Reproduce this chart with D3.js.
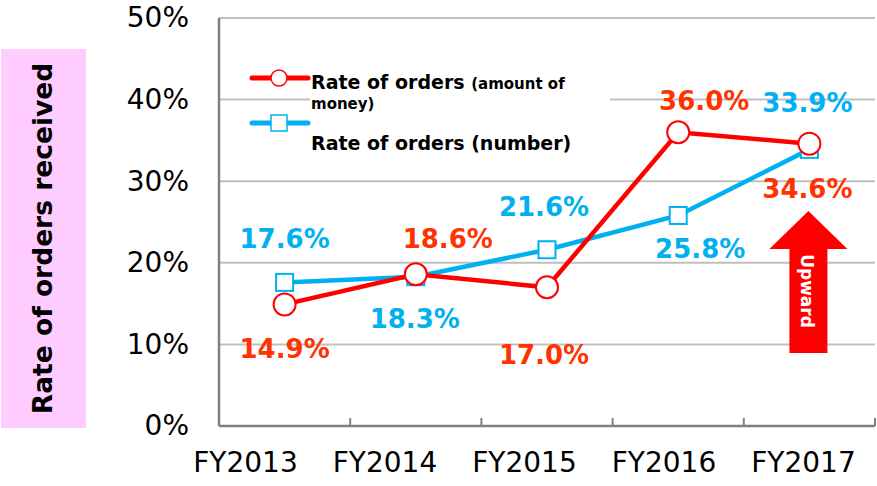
<!DOCTYPE html>
<html>
<head>
<meta charset="utf-8">
<script src="https://cdn.jsdelivr.net/npm/d3@7"></script>
<style>
  body { margin: 0; background: #fff; }
  text { font-family: "DejaVu Sans", Verdana, sans-serif; }
</style>
</head>
<body>
<svg width="877" height="486"></svg>
<script>
const svg = d3.select('svg');

const width = +svg.attr('width');
const height = +svg.attr('height');
const margin = { top: 18, right: 2, bottom: 60, left: 219 };
const innerWidth = width - margin.left - margin.right;
const innerHeight = height - margin.top - margin.bottom;

// data
const years = ['FY2013', 'FY2014', 'FY2015', 'FY2016', 'FY2017'];
const amountRate = [14.9, 18.6, 17.0, 36.0, 34.6];
const numberRate = [17.6, 18.3, 21.6, 25.8, 33.9];
const yTicks = [0, 10, 20, 30, 40, 50];

const yAxisLabel = 'Rate of orders received';
const redLine = '#ff0000';
const redLabel = '#ff3300';
const blueLine = '#00b0f0';
const fontFamily = '"DejaVu Sans", Verdana, sans-serif';

// label offsets from each point (dx, dy to baseline)
const amountLabelOffset = [[0, 54], [32, -26], [-3, 77], [26, -22], [-2, 54]];
const numberLabelOffset = [[0, -34], [-1, 51], [-3, -34], [22, 43], [-2, -37]];

const x = d3.scaleBand()
  .domain(years)
  .range([0, innerWidth]);

// the category labels in the picture sit a bit wider apart than the plot bands
const xLabel = d3.scalePoint()
  .domain(years)
  .range([26, 584]);

const y = d3.scaleLinear()
  .domain([0, 50])
  .range([innerHeight, 0]);

// pink box behind the y label
svg.append('rect')
  .attr('x', 1).attr('y', 49)
  .attr('width', 85).attr('height', 379)
  .attr('fill', '#ffccff');

svg.append('text')
  .attr('transform', `translate(52,${49 + 379 / 2}) rotate(-90)`)
  .attr('text-anchor', 'middle')
  .attr('font-size', 26.5)
  .attr('font-weight', 'bold')
  .attr('fill', '#000')
  .text(yAxisLabel);

const g = svg.append('g')
  .attr('transform', `translate(${margin.left},${margin.top})`);

// grid lines
g.selectAll('.grid')
  .data(yTicks.filter(d => d > 0))
  .enter().append('line')
  .attr('x1', 0).attr('x2', innerWidth)
  .attr('y1', d => y(d)).attr('y2', d => y(d))
  .attr('stroke', '#bfbfbf')
  .attr('stroke-width', 2);

// y axis
const yAxis = g.append('g')
  .call(d3.axisLeft(y).tickValues(yTicks).tickFormat(d => d + '%').tickSize(0));
yAxis.select('.domain').attr('stroke', '#808080').attr('stroke-width', 2.5).attr('d', `M0,0V${innerHeight}`);
yAxis.selectAll('.tick text')
  .attr('x', -30)
  .attr('text-anchor', 'end')
  .attr('font-size', 28)
  .attr('fill', '#000')
  .style('font-family', fontFamily);

// x axis line
g.append('line')
  .attr('x1', 0).attr('x2', innerWidth)
  .attr('y1', innerHeight).attr('y2', innerHeight)
  .attr('stroke', '#808080')
  .attr('stroke-width', 2.5);

// x axis labels
const xAxis = g.append('g')
  .attr('transform', `translate(0,${innerHeight})`)
  .call(d3.axisBottom(xLabel).tickSize(0).tickPadding(26));
xAxis.select('.domain').remove();
xAxis.selectAll('.tick text')
  .attr('font-size', 28)
  .attr('fill', '#000')
  .style('font-family', fontFamily);

// category separators on x axis
g.selectAll('.xsep')
  .data(years)
  .enter().append('line')
  .attr('x1', (d, i) => x.step() * (i + 1))
  .attr('x2', (d, i) => x.step() * (i + 1))
  .attr('y1', innerHeight - 8).attr('y2', innerHeight)
  .attr('stroke', '#808080')
  .attr('stroke-width', 2);

// legend
const legend = g.append('g');
legend.append('rect')
  .attr('x', 91).attr('y', 48)
  .attr('width', 300).attr('height', 96)
  .attr('fill', '#fff');

const legendItems = [
  { color: redLine, shape: 'circle', y: 60 },
  { color: blueLine, shape: 'square', y: 105 }
];
legendItems.forEach(it => {
  legend.append('line')
    .attr('x1', 33).attr('x2', 89)
    .attr('y1', it.y).attr('y2', it.y)
    .attr('stroke', it.color)
    .attr('stroke-width', 5)
    .attr('stroke-linecap', 'round');
  if (it.shape === 'circle') {
    legend.append('circle')
      .attr('cx', 60).attr('cy', it.y).attr('r', 8)
      .attr('fill', '#fff').attr('stroke', it.color).attr('stroke-width', 1.5);
  } else {
    legend.append('rect')
      .attr('x', 52).attr('y', it.y - 8).attr('width', 16).attr('height', 16)
      .attr('fill', '#fff').attr('stroke', it.color).attr('stroke-width', 1.5);
  }
});

const t1 = legend.append('text').attr('x', 92).attr('y', 71).attr('font-weight', 'bold').attr('fill', '#000');
t1.append('tspan').attr('font-size', 19).text('Rate of orders ');
t1.append('tspan').attr('font-size', 15).text('(amount of');
legend.append('text').attr('x', 92).attr('y', 91)
  .attr('font-size', 15).attr('font-weight', 'bold').attr('fill', '#000').text('money)');
legend.append('text').attr('x', 92).attr('y', 132)
  .attr('font-size', 19).attr('font-weight', 'bold').attr('fill', '#000').text('Rate of orders (number)');

// lines
const cx = d => x(d) + x.bandwidth() / 2;
const line = d3.line()
  .x((d, i) => cx(years[i]))
  .y(d => y(d));

g.append('path')
  .datum(numberRate)
  .attr('fill', 'none')
  .attr('stroke', blueLine)
  .attr('stroke-width', 4.5)
  .attr('d', line);

g.append('path')
  .datum(amountRate)
  .attr('fill', 'none')
  .attr('stroke', redLine)
  .attr('stroke-width', 4.5)
  .attr('d', line);

// markers
g.selectAll('.sq')
  .data(numberRate)
  .enter().append('rect')
  .attr('x', (d, i) => cx(years[i]) - 8.5)
  .attr('y', d => y(d) - 8.5)
  .attr('width', 17).attr('height', 17)
  .attr('fill', '#fff')
  .attr('stroke', blueLine)
  .attr('stroke-width', 2);

g.selectAll('.ci')
  .data(amountRate)
  .enter().append('circle')
  .attr('cx', (d, i) => cx(years[i]))
  .attr('cy', d => y(d))
  .attr('r', 11)
  .attr('fill', '#fff')
  .attr('stroke', redLine)
  .attr('stroke-width', 2);

// data labels
const addLabels = (vals, offs, color) => {
  g.selectAll(null)
    .data(vals)
    .enter().append('text')
    .attr('x', (d, i) => cx(years[i]) + offs[i][0])
    .attr('y', (d, i) => y(d) + offs[i][1])
    .attr('text-anchor', 'middle')
    .attr('font-size', 26)
    .attr('font-weight', 'bold')
    .attr('fill', color)
    .text(d => d.toFixed(1) + '%');
};
addLabels(amountRate, amountLabelOffset, redLabel);
addLabels(numberRate, numberLabelOffset, blueLine);

// upward arrow
const ax = margin.left + cx('FY2017') - 1;
svg.append('path')
  .attr('d', `M${ax},211 L${ax + 39},249 L${ax + 19},249 L${ax + 19},353 L${ax - 19},353 L${ax - 19},249 L${ax - 39},249 Z`)
  .attr('fill', '#ff0000');
svg.append('text')
  .attr('transform', `translate(${ax - 7},291) rotate(90)`)
  .attr('text-anchor', 'middle')
  .attr('font-size', 17)
  .attr('font-weight', 'bold')
  .attr('fill', '#fff')
  .text('Upward');
</script>
</body>
</html>
